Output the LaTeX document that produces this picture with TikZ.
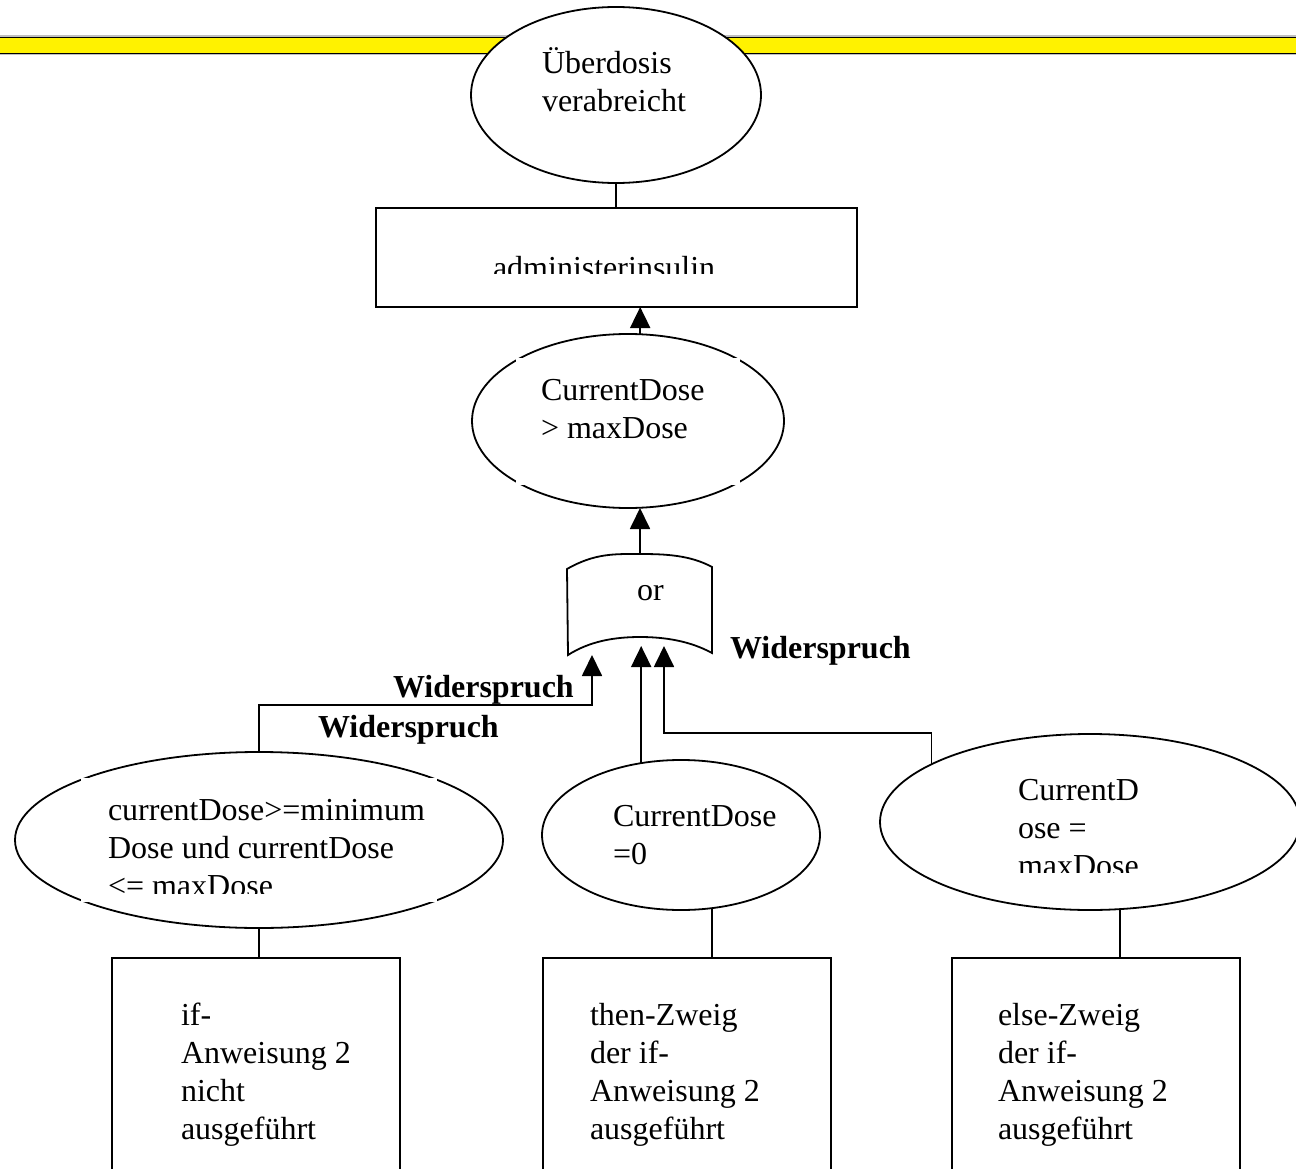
\documentclass[tikz,border=0pt]{standalone}
\usepackage{fontspec}
\setmainfont{Liberation Serif}
\usetikzlibrary{shapes.geometric,arrows.meta}
% left-aligned multi-line text whose anchor is the baseline of the first line
\newcommand{\txtlines}[1]{\begin{tabular}[t]{@{}l@{}}#1\end{tabular}}
\begin{document}
\begin{tikzpicture}[x=1pt,y=-1pt,
  every node/.style={inner sep=0pt, outer sep=0pt, font=\fontsize{32}{38}\selectfont},
  line/.style={line width=1.8pt},
  cond/.style={ellipse, draw, line width=1.8pt, fill=white},
  block/.style={draw, line width=1.8pt, anchor=north west},
  txt/.style={anchor=base west},
  verdict/.style={anchor=base west, font=\fontsize{32}{38}\selectfont\bfseries},
  arr/.style={line width=1.8pt, -{Triangle[length=21pt,width=20pt]}}]
\useasboundingbox (0,0) rectangle (1296,1169);
\clip (0,0) rectangle (1296,1169);

% yellow title band
\draw[gray!50, line width=4pt] (-10,37.5) -- (1310,37.5) (-10,53.5) -- (1310,53.5);
\fill[yellow] (-10,37.5) rectangle (1310,53.5);
\draw[line] (-10,37.5) -- (1310,37.5) (-10,53.5) -- (1310,53.5);

% top event
\node[cond, minimum width=290, minimum height=176] (top) at (616,95) {};
\node[txt] (toptext) at (542,74) {\txtlines{Überdosis\\verabreicht}};

% statement
\node[block, minimum width=481, minimum height=99] (admin) at (376,208) {};
\begin{scope}
  \clip (376,208) rectangle (857,273);
  \node[txt] (admintext) at (493,279) {administerinsulin};
\end{scope}
\draw[line] (top.south) -- (top.south |- admin.north);

% condition CurrentDose > maxDose
\node[cond, minimum width=312, minimum height=174] (dosemax) at (628,421) {};
\fill[white] (516,358) rectangle (740,485);
\node[txt] (dosemaxtext) at (541,400) {\txtlines{CurrentDose\\> maxDose}};
\draw[arr] (dosemax.82.1) -- (dosemax.82.1 |- admin.south);

% or gate
\draw[line] (567,569) .. controls (595,553) and (615,554) .. (640,554)
  .. controls (665,554) and (690,555) .. (712,567) -- (712,653)
  .. controls (690,641) and (665,637) .. (640,637)
  .. controls (615,637) and (590,641) .. (568,655) -- cycle;
\coordinate (orout) at (640,554);
\coordinate (inA) at (592,655);
\coordinate (inB) at (640,646);
\coordinate (inC) at (664,646);
\node[txt] (ortext) at (637,600) {or};
\draw[arr] (orout) -- (orout |- dosemax.south);

% lower conditions
\node[cond, minimum width=488, minimum height=176] (lower) at (259,840) {};
\fill[white] (81,778) rectangle (437,902);
\begin{scope}
  \clip (81,778) rectangle (437,893);
  \node[txt] (lowertext) at (108,820) {\txtlines{currentDose>=minimum\\Dose und currentDose\\<= maxDose}};
\end{scope}

\node[cond, minimum width=278, minimum height=150] (zero) at (681,835) {};
\node[txt] (zerotext) at (613,826) {\txtlines{CurrentDose\\=0}};

\node[cond, minimum width=420, minimum height=176] (eqmax) at (1090,822) {};
\begin{scope}
  \clip (1000,760) rectangle (1200,872);
  \node[txt] (eqmaxtext) at (1018,800) {\txtlines{CurrentD\\ose =\\maxDose}};
\end{scope}

% inputs of the or gate
\draw[arr] (lower.north) -- ++(0,-47) -| (inA);
\draw[arr] (zero.119.8) -- (zero.119.8 |- inB);
\draw[arr] (eqmax.160.93) -- ++(0,-31) -| (inC);

\node[verdict] (w1) at (393,697) {Widerspruch};
\node[verdict] (w2) at (318,737) {Widerspruch};
\node[verdict] (w3) at (730,658) {Widerspruch};

% program points
\node[block, minimum width=288, minimum height=260] (notrun) at (112,958) {};
\node[block, minimum width=288, minimum height=260] (thenrun) at (543,958) {};
\node[block, minimum width=288, minimum height=260] (elserun) at (952,958) {};
\node[txt] (notruntext) at (181,1025) {\txtlines{if-\\Anweisung 2\\nicht\\ausgeführt}};
\node[txt] (thenruntext) at (590,1025) {\txtlines{then-Zweig\\der if-\\Anweisung 2\\ausgeführt}};
\node[txt] (elseruntext) at (998,1025) {\txtlines{else-Zweig\\der if-\\Anweisung 2\\ausgeführt}};

\draw[line] (lower.south) -- (lower.south |- notrun.north);
\draw[line] (zero.-67) -- (zero.-67 |- thenrun.north);
\draw[line] (eqmax.-71) -- (eqmax.-71 |- elserun.north);
\end{tikzpicture}
\end{document}
